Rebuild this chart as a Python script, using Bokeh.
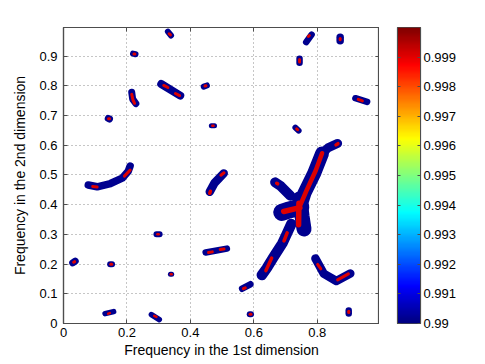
import numpy as np
from bokeh.plotting import figure
from bokeh.models import Range1d, LinearAxis, FixedTicker, ColumnDataSource, LinearColorMapper
from bokeh.layouts import row
from bokeh.embed import file_html
from bokeh.resources import INLINE

# ---------------- data ----------------
x_ticks = [0, 0.2, 0.4, 0.6, 0.8]
y_ticks = [0, 0.1, 0.2, 0.3, 0.4, 0.5, 0.6, 0.7, 0.8, 0.9]
cb_ticks = [0.99, 0.991, 0.992, 0.993, 0.994, 0.995, 0.996, 0.997, 0.998, 0.999]
cb_low, cb_high = 0.99, 1.0
x_label = "Frequency in the 1st dimension"
y_label = "Frequency in the 2nd dimension"

# outer (level 0.99) ridges of the peaks
outer_xs = [
    [.329, .339], [.219, .227], [.215, .218, .228], [.308, .368], [.442, .452],
    [.141, .145], [.466, .476], [.078, .106, .148, .185, .204, .210],
    [.461, .476, .505], [.293, .303], [.029, .037], [.147, .153], [.337, .341],
    [.448, .515], [.131, .158], [.277, .302], [.765, .782], [.872, .872],
    [.744, .744], [.920, .957], [.731, .741], [.563, .589], [.587, .591],
    [.794, .820, .860, .904], [.899, .899],
    [.864, .835, .815], [.815, .790, .760, .748], [.667, .685, .715],
    [.688, .705, .748], [.745, .752, .758], [.718, .703, .690, .660, .640, .625],
]
outer_ys = [
    [.982, .969], [.908, .906], [.778, .755, .740], [.806, .767], [.797, .801],
    [.690, .688], [.665, .665], [.466, .460, .471, .489, .512, .530],
    [.443, .473, .505], [.300, .300], [.204, .210], [.199, .199], [.166, .166],
    [.239, .252], [.033, .040], [.030, .013], [.947, .972], [.951, .963],
    [.877, .891], [.758, .746], [.659, .649], [.117, .132], [.031, .031],
    [.219, .168, .143, .168], [.034, .044],
    [.606, .592, .572], [.572, .505, .440, .400], [.475, .462, .430],
    [.374, .380, .392], [.420, .360, .318], [.335, .300, .270, .220, .185, .163],
]
outer_w = [6, 6, 7, 8, 6, 7, 5, 7.5, 8.5, 6, 7, 6, 5, 6.5, 5.5, 5.5, 6.5, 7.5, 6.5, 6.5, 6, 6.5, 6,
           8.5, 6.5, 9, 14, 10, 17, 15, 10.5]

# inner (level 0.9985) cores of the peaks
inner_xs = [
    [.333, .337], [.222, .225], [.215, .219, .224], [.316, .329], [.353, .366],
    [.446, .449], [.142, .145], [.469, .473], [.092, .106], [.192, .210],
    [.461, .463], [.496, .506], [.296, .300], [.032, .035], [.149, .152],
    [.338, .341], [.457, .469], [.494, .506], [.141, .146], [.286, .293],
    [.772, .775], [.872, .872], [.744, .744], [.929, .942], [.735, .738],
    [.567, .573], [.588, .591], [.801, .811], [.864, .898], [.899, .899],
    [.859, .865], [.815, .795, .765, .741], [.694, .745], [.742, .741],
    [.672, .675], [.695, .705], [.638, .656],
]
inner_ys = [
    [.975, .971], [.907, .907], [.771, .752, .741], [.801, .794], [.774, .767],
    [.799, .800], [.689, .689], [.665, .665], [.461, .459], [.496, .516],
    [.438, .445], [.499, .507], [.300, .300], [.206, .208], [.199, .199],
    [.166, .166], [.239, .241], [.249, .251], [.033, .035], [.026, .022],
    [.966, .969], [.955, .959], [.880, .888], [.754, .749], [.655, .652],
    [.117, .120], [.031, .031], [.199, .184], [.147, .167], [.037, .041],
    [.601, .605], [.573, .515, .445, .385], [.377, .390], [.405, .332],
    [.472, .470], [.278, .305], [.178, .220],
]
inner_w = [3, 3, 3, 3, 3, 3, 3, 2.5, 3, 3, 3.5, 3, 2.5, 3, 3, 2.5, 3, 3, 2.5, 2.5,
           3, 3, 3, 3, 3, 3, 3, 3, 3, 3, 3.5, 4.5, 5.5, 5.5, 3.5, 3.5, 3.5]

# ---------------- styling ----------------
FONT = "Liberation Sans"
AX = "#4d4d4d"


def jet(n):
    out = []
    for i in range(n):
        t = i / (n - 1)
        r = min(max(1.5 - abs(4 * t - 3), 0), 1)
        g = min(max(1.5 - abs(4 * t - 2), 0), 1)
        b = min(max(1.5 - abs(4 * t - 1), 0), 1)
        out.append("#%02x%02x%02x" % (int(r * 255), int(g * 255), int(b * 255)))
    return out


JET = jet(256)
BLUE = "#00008f"
RED = "#dd0000"

H = 364
p = figure(width=379, height=H, x_range=Range1d(0, 0.996), y_range=Range1d(0, 0.996),
           output_backend="svg", toolbar_location=None,
           min_border_left=63, min_border_right=0, min_border_top=27, min_border_bottom=41)
p.background_fill_color = "white"
p.border_fill_color = "white"
p.outline_line_color = AX
p.outline_line_width = 1.2

p.multi_line(xs="xs", ys="ys", line_width="w", line_color=BLUE, line_cap="round", line_join="round",
             source=ColumnDataSource(dict(xs=outer_xs, ys=outer_ys, w=outer_w)))
p.multi_line(xs="xs", ys="ys", line_width="w", line_color=RED, line_cap="round", line_join="round",
             source=ColumnDataSource(dict(xs=inner_xs, ys=inner_ys, w=inner_w)))

p.xaxis.ticker = FixedTicker(ticks=x_ticks)
p.yaxis.ticker = FixedTicker(ticks=y_ticks)
p.xaxis.major_label_overrides = {0: "0"}
p.yaxis.major_label_overrides = {0: "0"}
p.xaxis.axis_label = x_label
p.yaxis.axis_label = y_label
for ax in (p.xaxis[0], p.yaxis[0]):
    ax.axis_line_color = AX
    ax.axis_line_width = 1.2
    ax.major_tick_in = 4
    ax.major_tick_out = 0
    ax.major_tick_line_color = AX
    ax.minor_tick_line_color = None
    ax.major_label_text_font = FONT
    ax.major_label_text_font_size = "13px"
    ax.major_label_text_color = "black"
    ax.axis_label_text_font = FONT
    ax.axis_label_text_font_size = "14px"
    ax.axis_label_text_font_style = "normal"
    ax.axis_label_text_color = "black"
p.xaxis.major_label_standoff = 4
p.xaxis.axis_label_standoff = 2
p.yaxis.major_label_standoff = 6
p.yaxis.axis_label_standoff = 8

for loc, t in (("above", x_ticks), ("right", y_ticks)):
    a = LinearAxis(ticker=FixedTicker(ticks=t), major_tick_in=4, major_tick_out=0,
                   major_label_text_color=None, major_label_text_font_size="1px",
                   major_label_standoff=0,
                   minor_tick_line_color=None, axis_line_color=AX, major_tick_line_color=AX)
    p.add_layout(a, loc)

p.grid.grid_line_color = "#8c8c8c"
p.grid.grid_line_dash = "1 3"
p.xgrid.ticker = FixedTicker(ticks=x_ticks)
p.ygrid.ticker = FixedTicker(ticks=y_ticks)

# ---------------- colour bar ----------------
cb = figure(width=104, height=H, x_range=Range1d(0, 1), y_range=Range1d(cb_low, cb_high),
            output_backend="svg", toolbar_location=None, y_axis_location="right",
            min_border_left=18, min_border_right=63, min_border_top=27, min_border_bottom=41)
cb.xaxis.visible = False
cb.grid.visible = False
cb.outline_line_color = AX
cb.outline_line_width = 1.2
grad = np.linspace(0, 1, 256).reshape(256, 1)
cb.image(image=[grad], x=0, y=cb_low, dw=1, dh=cb_high - cb_low,
         color_mapper=LinearColorMapper(palette=JET, low=0, high=1))
ya = cb.yaxis[0]
ya.ticker = FixedTicker(ticks=cb_ticks)
ya.major_label_overrides = {t: str(t) for t in cb_ticks}
ya.major_tick_in = 3
ya.major_tick_out = 0
ya.minor_tick_line_color = None
ya.axis_line_color = AX
ya.major_tick_line_color = AX
ya.major_label_standoff = 3
ya.major_label_text_font = FONT
ya.major_label_text_font_size = "13px"
ya.major_label_text_color = "black"
la = LinearAxis(ticker=FixedTicker(ticks=cb_ticks), major_tick_in=3, major_tick_out=0,
                major_label_text_color=None, major_label_text_font_size="1px",
                major_label_standoff=0,
                minor_tick_line_color=None, axis_line_color=AX, major_tick_line_color=AX)
cb.add_layout(la, "left")

layout = row(p, cb)
open("out.html", "w").write(file_html(layout, INLINE))
